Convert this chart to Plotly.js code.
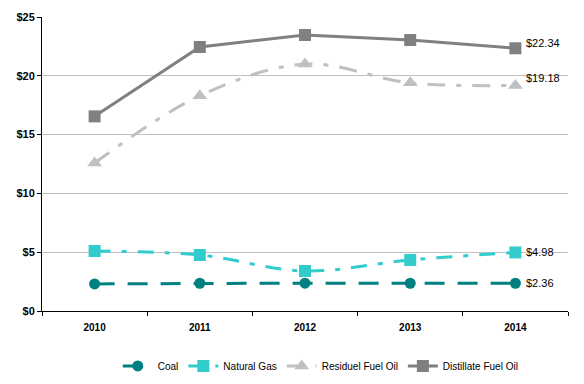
<!DOCTYPE html>
<html><head><meta charset="utf-8">
<script src="https://cdn.plot.ly/plotly-3.0.1.min.js"></script>
<style>html,body{margin:0;padding:0;background:#fff}#c{width:584px;height:384px}</style>
</head><body><div id="c"></div>
<script>
var years = ['2010','2011','2012','2013','2014'];
var coal = [2.30, 2.36, 2.37, 2.36, 2.36];
var naturalGas = [5.10, 4.76, 3.40, 4.34, 4.98];
var residualOil = [12.58, 18.30, 21.00, 19.40, 19.18];
var distillateOil = [16.55, 22.45, 23.47, 23.04, 22.34];
var seriesNames = ['Coal', 'Natural Gas', 'Residuel Fuel Oil', 'Distillate Fuel Oil'];
var endLabels = ['$2.36', '$4.98', '$19.18', '$22.34'];

var traces = [
  {x: years, y: coal, name: seriesNames[0], mode: 'lines+markers',
   line: {color: '#008080', width: 3, dash: '20px,13px'}, marker: {symbol: 'circle', size: 11, color: '#008080'}},
  {x: years, y: naturalGas, name: seriesNames[1], mode: 'lines+markers',
   line: {color: '#33CCCC', width: 3, dash: '16px,11px,5px,11px', shape: 'spline'}, marker: {symbol: 'square', size: 12, color: '#33CCCC'}},
  {x: years, y: residualOil, name: seriesNames[2], mode: 'lines+markers',
   line: {color: '#C0C0C0', width: 3, dash: '18px,11px,5px,11px', shape: 'spline'}, marker: {symbol: 'triangle-up', size: 13, color: '#C0C0C0'}},
  {x: years, y: distillateOil, name: seriesNames[3], mode: 'lines+markers',
   line: {color: '#808080', width: 3}, marker: {symbol: 'square', size: 12, color: '#808080'}}
];
var series = [coal, naturalGas, residualOil, distillateOil];
var labelShift = [0, 0, 7, 5];
var last = years.length - 1;
var annotations = series.map(function(s, i){
  return {x: last, y: s[last], xref: 'x', yref: 'y', text: endLabels[i], showarrow: false,
          xanchor: 'left', yanchor: 'middle', xshift: 9, yshift: labelShift[i],
          font: {family: 'Liberation Sans, Arial, sans-serif', size: 11, color: '#000'}};
});

var layout = {
  width: 584, height: 384,
  margin: {l: 42, r: 16, t: 17, b: 73, autoexpand: false},
  paper_bgcolor: '#fff', plot_bgcolor: '#fff',
  showlegend: true,
  legend: {orientation: 'h', x: 0.53, xanchor: 'center', y: -0.187, yanchor: 'middle',
           font: {family: 'Liberation Sans, Arial, sans-serif', size: 10, color: '#000'}, itemwidth: 30, tracegroupgap: 0},
  xaxis: {type: 'category', range: [-0.5, 4.5], showline: true, linecolor: '#000', linewidth: 1,
          ticks: 'outside', tickson: 'boundaries', ticklen: 4, tickcolor: '#000', showgrid: false, zeroline: false,
          ticklabelstandoff: 7,
          tickfont: {family: 'Liberation Sans, Arial, sans-serif', size: 10, color: '#000', weight: 'bold'}},
  yaxis: {range: [0, 25], dtick: 5, tickprefix: '$', showline: true, linecolor: '#000', linewidth: 1,
          ticks: 'outside', ticklen: 4, tickcolor: '#000', showgrid: true, gridcolor: '#C0C0C0', gridwidth: 1, zeroline: false,
          tickfont: {family: 'Liberation Sans Narrow, Liberation Sans, Arial, sans-serif', size: 11, color: '#000', weight: 'bold'}},
  annotations: annotations
};
Plotly.newPlot('c', traces, layout, {displayModeBar: false, staticPlot: true});
</script></body></html>
